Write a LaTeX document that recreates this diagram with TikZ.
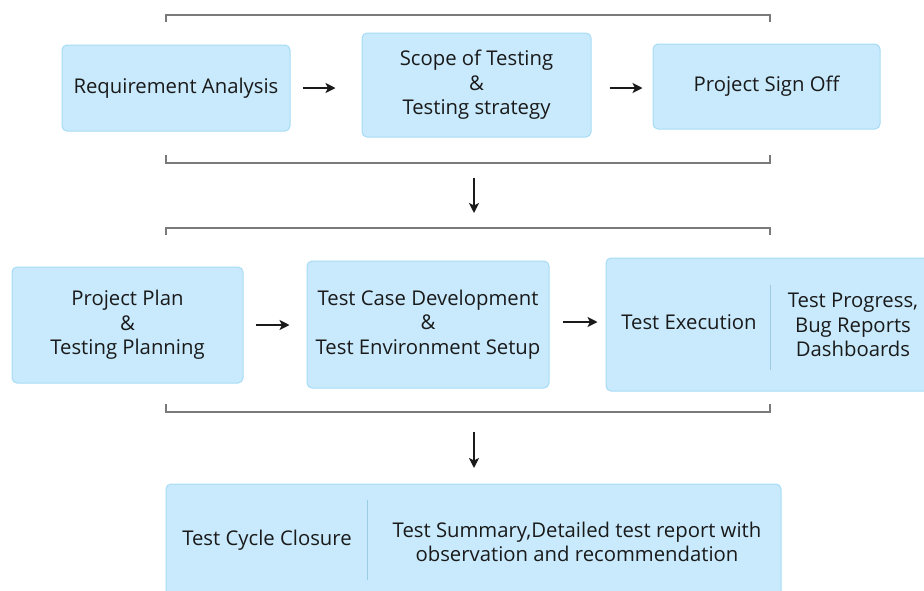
\documentclass[tikz,border=0pt]{standalone}
\usepackage{fontspec}
\setmainfont{Open Sans}
\usetikzlibrary{arrows.meta}
\definecolor{boxfill}{HTML}{C8EAFC}
\definecolor{boxline}{HTML}{A6DCF5}
\definecolor{splitline}{HTML}{9CCBE3}
\definecolor{bracketgray}{HTML}{7A7A7A}
\definecolor{inkdark}{HTML}{1A1A1A}
\tikzset{
  stagebox/.style={draw=boxline,fill=boxfill,line width=1pt,rounded corners=5pt,
    align=center,text=inkdark,inner sep=0pt,
    font=\fontsize{20.3}{24.5}\selectfont},
  boxtext/.style={align=center,text=inkdark,inner sep=0pt,
    font=\fontsize{20.3}{24.5}\selectfont},
  flow/.style={draw=inkdark,line width=2pt,-{Stealth[length=10pt,width=10pt,inset=2.5pt]}},
  bracket/.style={draw=bracketgray,line width=1.5pt},
  split/.style={draw=splitline,line width=1pt}
}
\begin{document}
\begin{tikzpicture}[x=1pt,y=-1pt]
  \useasboundingbox (0,0) rectangle (924,590);
  \clip (0,0) rectangle (924,590);
  % first stage
  \draw[bracket] (166,22) -- (166,15) -- (770,15) -- (770,22);
  \node[stagebox,minimum width=228pt,minimum height=86pt] (req) at (176,88) {Requirement Analysis};
  \node[stagebox,minimum width=229pt,minimum height=104pt] (scope) at (476.5,85) {Scope of Testing\\\&\\Testing strategy};
  \node[stagebox,minimum width=227pt,minimum height=85pt] (signoff) at (766.5,86.5) {Project Sign Off};
  \draw[flow,shorten <=12pt,shorten >=26pt] (req.east) -- (req.east -| scope.west);
  \draw[flow,shorten <=18pt,shorten >=10pt] (scope.east |- req.east) -- (signoff.west |- req.east);
  \draw[bracket] (166,155) -- (166,163) -- (770,163) -- (770,155);
  \coordinate (end1) at (474,163);
  % second stage
  \draw[bracket] (166,235) -- (166,228) -- (770,228) -- (770,235);
  \coordinate (start2) at (474,228);
  \draw[flow,shorten <=15pt,shorten >=15pt] (end1) -- (start2);
  \node[stagebox,minimum width=231pt,minimum height=116pt] (plan) at (127.5,325) {Project Plan\\\&\\Testing Planning};
  \node[stagebox,minimum width=242pt,minimum height=127pt] (casedev) at (428,324.5) {Test Case Development\\\&\\Test Environment Setup};
  \node[stagebox,minimum width=338pt,minimum height=133pt] (exec) at (775,324.5) {};
  \node[boxtext] (execname) at (689,322) {Test Execution};
  \node[boxtext] (execout) at (853,325) {Test Progress,\\Bug Reports\\Dashboards};
  \draw[split] (770,285) -- (770,370);
  \draw[flow,shorten <=12pt,shorten >=17pt] (plan.east) -- (plan.east -| casedev.west);
  \draw[flow,shorten <=13pt,shorten >=8pt] (casedev.east |- execname) -- (exec.west |- execname);
  \draw[bracket] (166,404) -- (166,412) -- (770,412) -- (770,404);
  \coordinate (end2) at (474,412);
  % closure
  \coordinate (start3) at (474,484);
  \draw[flow,shorten <=20pt,shorten >=16pt] (end2) -- (start3);
  \node[stagebox,minimum width=615pt,minimum height=116pt] (closure) at (473.5,542) {};
  \node[boxtext] (closurename) at (267,540) {Test Cycle Closure};
  \node[boxtext] (closureout) at (577,542) {Test Summary,Detailed test report with\\observation and recommendation};
  \draw[split] (367,500) -- (367,580);
\end{tikzpicture}
\end{document}
